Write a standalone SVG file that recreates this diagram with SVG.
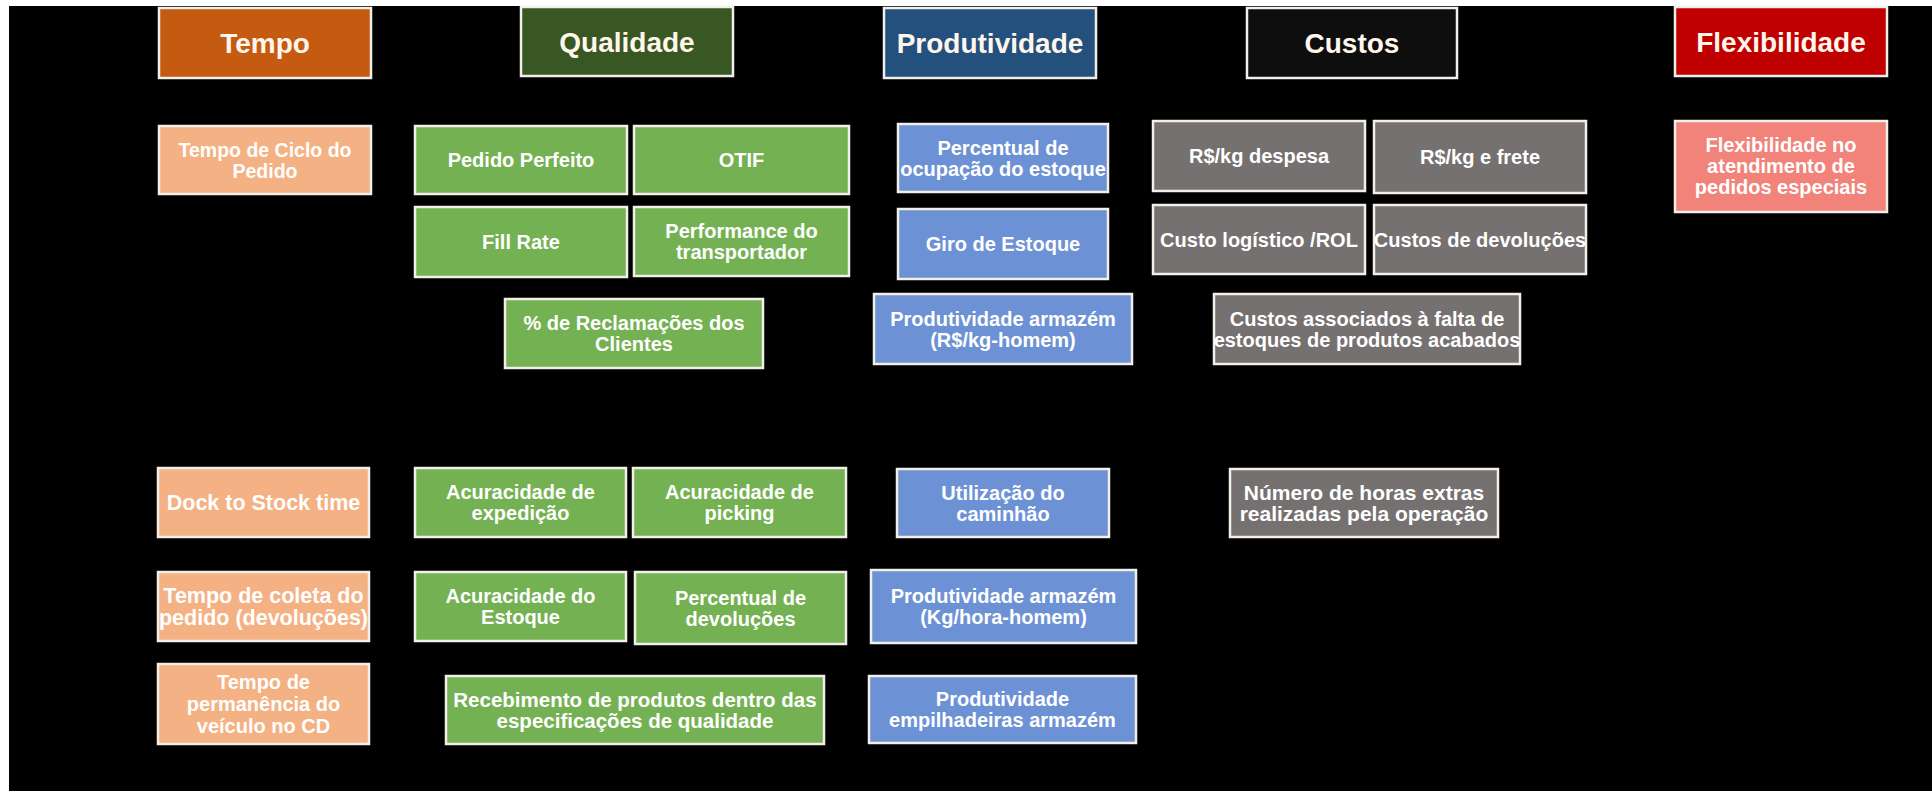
<svg xmlns="http://www.w3.org/2000/svg" width="1932" height="791" viewBox="0 0 1932 791">
<defs>
<style>
.bg{fill:#000000}
rect.b{stroke:#F2EFE8;stroke-width:2.5}
.hd{font-family:"Liberation Sans",Arial,sans-serif;font-weight:bold;font-size:28px;fill:#FFF6EC;text-anchor:middle}
.it{font-family:"Liberation Sans",Arial,sans-serif;font-weight:bold;font-size:20px;fill:#FFFFFF;text-anchor:middle}
.tH{fill:#C55A11}.qH{fill:#385723}.pH{fill:#24507E}.cH{fill:#0E0E0E}.fH{fill:#C00000}
.t{fill:#F4B183}.q{fill:#74B152}.p{fill:#6D91D5}.c{fill:#767171}.f{fill:#F1837B}
</style>
</defs>
<rect x="0" y="0" width="1932" height="791" fill="#FFFFFF"/>
<rect class="bg" x="9" y="6" width="1923" height="785"/>
<g id="connectors"></g>

<g id="h-tempo"><rect class="b tH" x="159" y="8" width="212" height="70"/><text class="hd" x="265" y="53">Tempo</text></g>
<g id="h-qualidade"><rect class="b qH" x="521" y="7" width="212" height="69"/><text class="hd" x="627" y="52">Qualidade</text></g>
<g id="h-produtividade"><rect class="b pH" x="884" y="8" width="212" height="70"/><text class="hd" x="990" y="53">Produtividade</text></g>
<g id="h-custos"><rect class="b cH" x="1247" y="8" width="210" height="70"/><text class="hd" x="1352" y="53">Custos</text></g>
<g id="h-flexibilidade"><rect class="b fH" x="1675" y="7" width="212" height="69"/><text class="hd" x="1781" y="52">Flexibilidade</text></g>

<g id="n-tempo-ciclo"><rect class="b t" x="159" y="126" width="212" height="68"/><text class="it" style="font-size:19.5px"><tspan x="265" y="156.5">Tempo de Ciclo do</tspan><tspan x="265" y="177.5">Pedido</tspan></text></g>
<g id="n-pedido-perfeito"><rect class="b q" x="415" y="126" width="212" height="68"/><text class="it" x="521" y="167">Pedido Perfeito</text></g>
<g id="n-otif"><rect class="b q" x="634" y="126" width="215" height="68"/><text class="it" x="741.5" y="167">OTIF</text></g>
<g id="n-ocupacao"><rect class="b p" x="898" y="124" width="210" height="68"/><text class="it"><tspan x="1003" y="154.5">Percentual de</tspan><tspan x="1003" y="175.5">ocupação do estoque</tspan></text></g>
<g id="n-rkg-despesa"><rect class="b c" x="1153" y="121" width="212" height="70"/><text class="it" x="1259" y="163">R$/kg despesa</text></g>
<g id="n-rkg-frete"><rect class="b c" x="1374" y="121" width="212" height="72"/><text class="it" x="1480" y="164">R$/kg e frete</text></g>
<g id="n-flex-pedidos"><rect class="b f" x="1675" y="121" width="212" height="91"/><text class="it"><tspan x="1781" y="152">Flexibilidade no</tspan><tspan x="1781" y="173">atendimento de</tspan><tspan x="1781" y="194">pedidos especiais</tspan></text></g>

<g id="n-fill-rate"><rect class="b q" x="415" y="207" width="212" height="70"/><text class="it" x="521" y="249">Fill Rate</text></g>
<g id="n-performance"><rect class="b q" x="634" y="207" width="215" height="69"/><text class="it"><tspan x="741.5" y="238">Performance do</tspan><tspan x="741.5" y="259">transportador</tspan></text></g>
<g id="n-giro"><rect class="b p" x="898" y="209" width="210" height="70"/><text class="it" x="1003" y="251">Giro de Estoque</text></g>
<g id="n-custo-rol"><rect class="b c" x="1153" y="205" width="212" height="69"/><text class="it" x="1259" y="246.5">Custo logístico /ROL</text></g>
<g id="n-custos-devolucoes"><rect class="b c" x="1374" y="205" width="212" height="69"/><text class="it" x="1480" y="246.5">Custos de devoluções</text></g>

<g id="n-reclamacoes"><rect class="b q" x="505" y="299" width="258" height="69"/><text class="it"><tspan x="634" y="330">% de Reclamações dos</tspan><tspan x="634" y="351">Clientes</tspan></text></g>
<g id="n-prod-rkg"><rect class="b p" x="874" y="294" width="258" height="70"/><text class="it"><tspan x="1003" y="325.5">Produtividade armazém</tspan><tspan x="1003" y="346.5">(R$/kg-homem)</tspan></text></g>
<g id="n-custos-falta"><rect class="b c" x="1214" y="294" width="306" height="70"/><text class="it"><tspan x="1367" y="325.5">Custos associados à falta de</tspan><tspan x="1367" y="346.5">estoques de produtos acabados</tspan></text></g>

<g id="n-dock"><rect class="b t" x="158" y="468" width="211" height="69"/><text class="it" x="263.5" y="510" style="font-size:21.5px">Dock to Stock time</text></g>
<g id="n-ac-expedicao"><rect class="b q" x="415" y="468" width="211" height="69"/><text class="it"><tspan x="520.5" y="499">Acuracidade de</tspan><tspan x="520.5" y="520">expedição</tspan></text></g>
<g id="n-ac-picking"><rect class="b q" x="633" y="468" width="213" height="69"/><text class="it"><tspan x="739.5" y="499">Acuracidade de</tspan><tspan x="739.5" y="520">picking</tspan></text></g>
<g id="n-utilizacao"><rect class="b p" x="897" y="469" width="212" height="68"/><text class="it"><tspan x="1003" y="499.5">Utilização do</tspan><tspan x="1003" y="520.5">caminhão</tspan></text></g>
<g id="n-horas-extras"><rect class="b c" x="1230" y="469" width="268" height="68"/><text class="it" style="font-size:21px"><tspan x="1364" y="499.5">Número de horas extras</tspan><tspan x="1364" y="521">realizadas pela operação</tspan></text></g>

<g id="n-tempo-coleta"><rect class="b t" x="158" y="572" width="211" height="69"/><text class="it" style="font-size:21.5px"><tspan x="263.5" y="603">Tempo de coleta do</tspan><tspan x="263.5" y="625">pedido (devoluções)</tspan></text></g>
<g id="n-ac-estoque"><rect class="b q" x="415" y="572" width="211" height="69"/><text class="it"><tspan x="520.5" y="603">Acuracidade do</tspan><tspan x="520.5" y="624">Estoque</tspan></text></g>
<g id="n-perc-devolucoes"><rect class="b q" x="635" y="572" width="211" height="72"/><text class="it"><tspan x="740.5" y="604.5">Percentual de</tspan><tspan x="740.5" y="625.5">devoluções</tspan></text></g>
<g id="n-prod-kg"><rect class="b p" x="871" y="570" width="265" height="73"/><text class="it"><tspan x="1003.5" y="603">Produtividade armazém</tspan><tspan x="1003.5" y="624">(Kg/hora-homem)</tspan></text></g>

<g id="n-tempo-permanencia"><rect class="b t" x="158" y="664" width="211" height="80"/><text class="it"><tspan x="263.5" y="689">Tempo de</tspan><tspan x="263.5" y="711">permanência do</tspan><tspan x="263.5" y="733">veículo no CD</tspan></text></g>
<g id="n-recebimento"><rect class="b q" x="446" y="676" width="378" height="68"/><text class="it" style="font-size:20.5px"><tspan x="635" y="706.5">Recebimento de produtos dentro das</tspan><tspan x="635" y="728">especificações de qualidade</tspan></text></g>
<g id="n-prod-empilhadeiras"><rect class="b p" x="869" y="676" width="267" height="67"/><text class="it"><tspan x="1002.5" y="706">Produtividade</tspan><tspan x="1002.5" y="727">empilhadeiras armazém</tspan></text></g>
</svg>
